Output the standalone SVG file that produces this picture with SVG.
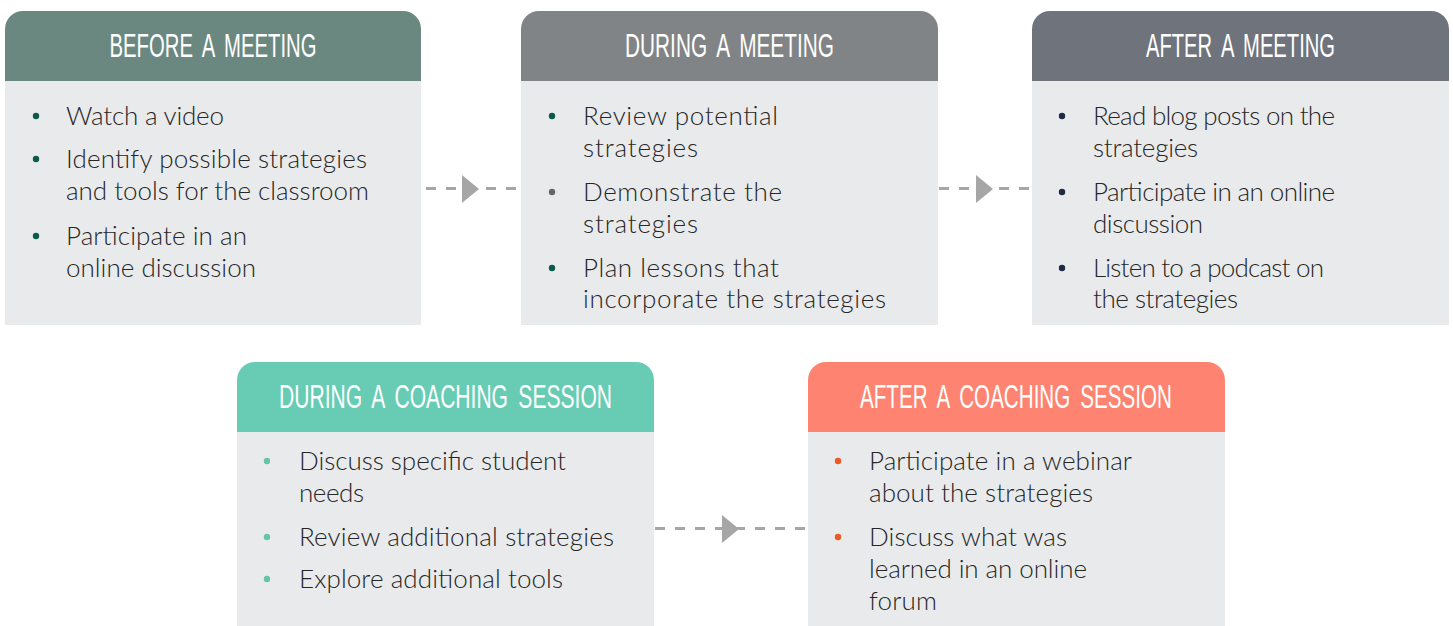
<svg xmlns="http://www.w3.org/2000/svg" width="1453" height="626" viewBox="0 0 1453 626">
<style>
.body{fill:#e9eaec}
.hd{font-family:"Liberation Sans",Arial,sans-serif;font-size:33px;fill:#ffffff;text-anchor:middle;word-spacing:7px}
.tx{font-family:Lato,"Liberation Sans",sans-serif;font-weight:300;font-size:26px;fill:#262626}
.conn{stroke:#a6a6a6;stroke-width:3;stroke-dasharray:10 10;fill:none}
.tri{fill:#a6a6a6}
</style>
<rect width="1453" height="626" fill="#ffffff"/>
<g id="before-meeting">
<path d="M5,81 V29 A18,18 0 0 1 23,11 H403 A18,18 0 0 1 421,29 V81 Z" fill="#6b8880"/>
<rect class="body" x="5" y="81" width="416" height="244"/>
<text class="hd" x="213" y="57" textLength="207" lengthAdjust="spacingAndGlyphs">BEFORE A MEETING</text>
<g fill="#0b5a4a"><circle cx="36" cy="116" r="3.2"/><circle cx="36" cy="159" r="3.2"/><circle cx="36" cy="236" r="3.2"/></g>
<text class="tx" x="66" y="125" textLength="158">Watch a video</text>
<text class="tx" x="66" y="168" textLength="301">Identify possible strategies</text>
<text class="tx" x="66" y="200" textLength="303">and tools for the classroom</text>
<text class="tx" x="66" y="245" textLength="181">Participate in an</text>
<text class="tx" x="66" y="277" textLength="190">online discussion</text>
</g>
<g id="during-meeting">
<path d="M521,81 V29 A18,18 0 0 1 539,11 H920 A18,18 0 0 1 938,29 V81 Z" fill="#818486"/>
<rect class="body" x="521" y="81" width="417" height="244"/>
<text class="hd" x="729.5" y="57" textLength="209" lengthAdjust="spacingAndGlyphs">DURING A MEETING</text>
<circle cx="552" cy="116" r="3.2" fill="#0b5a4a"/>
<circle cx="552" cy="192" r="3.2" fill="#666666"/>
<circle cx="552" cy="268" r="3.2" fill="#0b5a4a"/>
<text class="tx" x="583" y="125" textLength="195">Review potential</text>
<text class="tx" x="583" y="157" textLength="115">strategies</text>
<text class="tx" x="583" y="201" textLength="199">Demonstrate the</text>
<text class="tx" x="583" y="233" textLength="115">strategies</text>
<text class="tx" x="583" y="277" textLength="196">Plan lessons that</text>
<text class="tx" x="583" y="308" textLength="303">incorporate the strategies</text>
</g>
<g id="after-meeting">
<path d="M1032,81 V29 A18,18 0 0 1 1050,11 H1431 A18,18 0 0 1 1449,29 V81 Z" fill="#6f737c"/>
<rect class="body" x="1032" y="81" width="417" height="244"/>
<text class="hd" x="1240.5" y="57" textLength="189" lengthAdjust="spacingAndGlyphs">AFTER A MEETING</text>
<g fill="#1c2a44"><circle cx="1062" cy="116" r="3.2"/><circle cx="1062" cy="192" r="3.2"/><circle cx="1062" cy="268" r="3.2"/></g>
<text class="tx" x="1093" y="125" textLength="242">Read blog posts on the</text>
<text class="tx" x="1093" y="157" textLength="105">strategies</text>
<text class="tx" x="1093" y="201" textLength="242">Participate in an online</text>
<text class="tx" x="1093" y="233" textLength="110">discussion</text>
<text class="tx" x="1093" y="277" textLength="231">Listen to a podcast on</text>
<text class="tx" x="1093" y="308" textLength="145">the strategies</text>
</g>
<g id="during-coaching">
<path d="M237,432 V380 A18,18 0 0 1 255,362 H636 A18,18 0 0 1 654,380 V432 Z" fill="#67ccb3"/>
<rect class="body" x="237" y="432" width="417" height="194"/>
<text class="hd" x="445.5" y="408" textLength="333" lengthAdjust="spacingAndGlyphs">DURING A COACHING SESSION</text>
<g fill="#67c4a7"><circle cx="267" cy="461" r="3.2"/><circle cx="267" cy="537" r="3.2"/><circle cx="267" cy="579" r="3.2"/></g>
<text class="tx" x="299" y="470" textLength="267">Discuss specific student</text>
<text class="tx" x="299" y="502" textLength="65">needs</text>
<text class="tx" x="299" y="546" textLength="315">Review additional strategies</text>
<text class="tx" x="299" y="588" textLength="264">Explore additional tools</text>
</g>
<g id="after-coaching">
<path d="M808,432 V380 A18,18 0 0 1 826,362 H1207 A18,18 0 0 1 1225,380 V432 Z" fill="#fe8471"/>
<rect class="body" x="808" y="432" width="417" height="194"/>
<text class="hd" x="1016" y="408" textLength="312" lengthAdjust="spacingAndGlyphs">AFTER A COACHING SESSION</text>
<g fill="#f05a1e"><circle cx="838" cy="461" r="3.2"/><circle cx="838" cy="537" r="3.2"/></g>
<text class="tx" x="869" y="470" textLength="263">Participate in a webinar</text>
<text class="tx" x="869" y="502" textLength="224">about the strategies</text>
<text class="tx" x="869" y="546" textLength="198">Discuss what was</text>
<text class="tx" x="869" y="578" textLength="218">learned in an online</text>
<text class="tx" x="869" y="610" textLength="68">forum</text>
</g>
<g id="connectors">
<line class="conn" x1="426" y1="188.5" x2="518" y2="188.5"/>
<polygon class="tri" points="462,175 479,189 462,203"/>
<line class="conn" x1="939" y1="188.5" x2="1031" y2="188.5"/>
<polygon class="tri" points="976,175 993,189 976,203"/>
<line class="conn" x1="655" y1="528.5" x2="807" y2="528.5"/>
<polygon class="tri" points="722,515 739,529 722,543"/>
</g>
</svg>
